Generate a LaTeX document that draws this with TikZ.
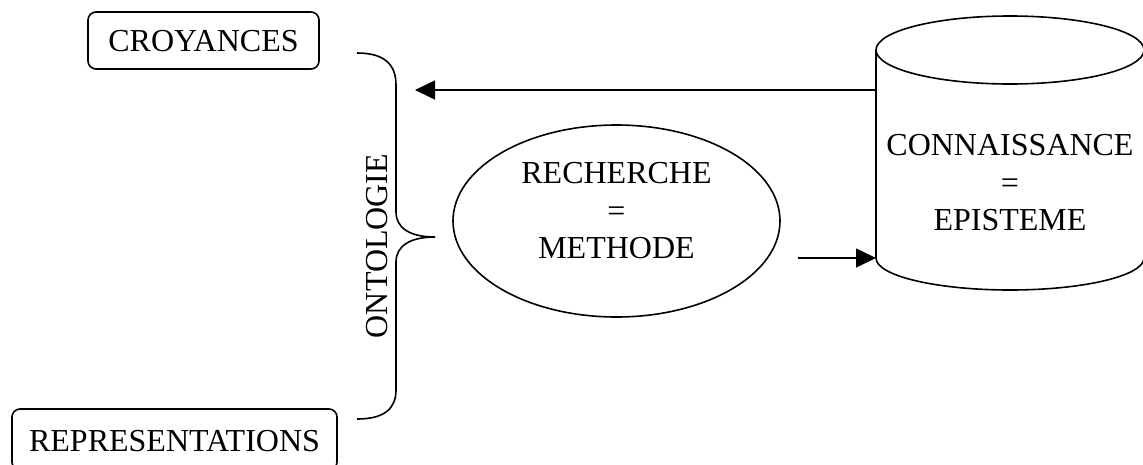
\documentclass[tikz,border=0pt]{standalone}
\usepackage{fontspec}
\setmainfont{Liberation Serif}
\usetikzlibrary{arrows.meta,shapes.geometric}
\begin{document}
\begin{tikzpicture}[x=1pt,y=-1pt,
  lbl/.style={font=\fontsize{32}{37.5}\selectfont, align=center, inner sep=0pt},
  rbox/.style={draw, line width=1.6pt, rounded corners=8pt},
  ln/.style={line width=1.6pt},
  arr/.style={line width=1.6pt, -{Triangle[length=20pt,width=19pt]}}]
\useasboundingbox (0,0) rectangle (1143,464);
% boxes
\draw[rbox] (88,12) rectangle (319,69);
\node[lbl] (croy) at (203.5,41) {CROYANCES};
\draw[rbox] (12,409) rectangle (337,470);
\node[lbl] (repr) at (174.5,441) {REPRESENTATIONS};
% brace
\draw[ln] (357,53) .. controls (385,53) and (396,65) .. (396,85)
  -- (396,212) .. controls (396,228) and (410,237) .. (435,237)
  .. controls (410,237) and (396,246) .. (396,262)
  -- (396,390) .. controls (396,408) and (385,419) .. (357,419);
\node[lbl, rotate=90] (onto) at (377,246) {ONTOLOGIE};
% ellipse
\node[draw, ln, ellipse, minimum width=327pt, minimum height=192pt, inner sep=0pt] (rech) at (616.5,221) {};
\node[lbl] (rechtxt) at (616.5,211) {RECHERCHE\\=\\METHODE};
% cylinder
\draw[ln, fill=white] (876,50) -- (876,258) arc[start angle=180, end angle=360, x radius=134pt, y radius=32pt]
  -- (1144,50);
\draw[ln] (1010,50) ellipse[x radius=134pt, y radius=34pt];
\node[lbl] (conn) at (1010,183) {CONNAISSANCE\\=\\EPISTEME};
\coordinate (cylA) at (876,90);
\coordinate (cylB) at (876,258);
\coordinate (braceA) at (415,90);
\coordinate (rechB) at (798,258);
% arrows
\draw[arr] (cylA) -- (braceA);
\draw[arr] (rechB) -- (cylB);
\end{tikzpicture}
\end{document}
